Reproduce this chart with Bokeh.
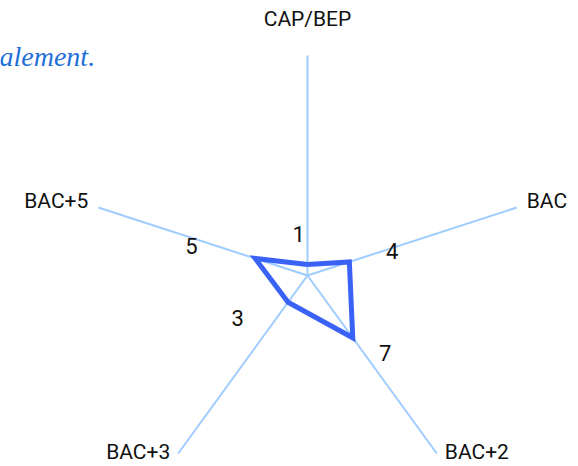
import math
from bokeh.plotting import figure
from bokeh.models import Range1d
from bokeh.core.properties import value
from bokeh.embed import file_html
from bokeh.resources import INLINE

# ---- data ----
categories = ["CAP/BEP", "BAC", "BAC+2", "BAC+3", "BAC+5"]
values = [1, 4, 7, 3, 5]
axis_max = 20
title_fragment = "alement."

# ---- style / layout ----
W, H = 578, 466
PX = 11.0                   # pixels per value unit
cx_px, cy_px = 307, 275     # centre of the radar inside the figure (from top-left)
angles_deg = [90, 18, -54, -126, 162]
# axis-label anchoring: (align, baseline, x_offset, y_offset)
cat_label_style = [
    ("center", "middle", 0, -37),
    ("left", "middle", 10, -7),
    ("left", "middle", 8, -1),
    ("right", "middle", -8, -1),
    ("right", "middle", -10, -7),
]
# value-label placement (radius in value units, angle in degrees)
val_label_polar = [(3.9, 102), (8.0, 16), (10.0, -45), (7.45, 211.6), (10.9, 165.7)]

AXIS_COLOR = "#9fccff"
POLY_COLOR = "#3a62f5"
TEXT_COLOR = "#111111"
FONT = "Roboto"

p = figure(width=W, height=H, output_backend="svg", toolbar_location=None,
           x_range=Range1d(-cx_px / PX, (W - cx_px) / PX),
           y_range=Range1d(-(H - cy_px) / PX, cy_px / PX),
           min_border=0, outline_line_color=None)
p.axis.visible = False
p.grid.visible = False
p.background_fill_color = "white"
p.border_fill_color = "white"

rad = [math.radians(a) for a in angles_deg]

# spokes
xs = [[0, axis_max * math.cos(a)] for a in rad]
ys = [[0, axis_max * math.sin(a)] for a in rad]
p.multi_line(xs=xs, ys=ys, line_color=AXIS_COLOR, line_width=2)

# data polygon
px = [v * math.cos(a) for v, a in zip(values, rad)]
py = [v * math.sin(a) for v, a in zip(values, rad)]
p.line(x=px + [px[0]], y=py + [py[0]], line_color=POLY_COLOR, line_width=5,
       line_join="miter")

# category labels
for cat, a, (al, bl, xo, yo) in zip(categories, rad, cat_label_style):
    p.text(x=[axis_max * math.cos(a)], y=[axis_max * math.sin(a)], text=[cat],
           text_align=al, text_baseline=bl, x_offset=xo, y_offset=yo,
           text_font=value(FONT), text_font_size="21px", text_color=TEXT_COLOR)

# value labels
vx = [r * math.cos(math.radians(t)) for r, t in val_label_polar]
vy = [r * math.sin(math.radians(t)) for r, t in val_label_polar]
p.text(x=vx, y=vy, text=[str(v) for v in values], text_align="center",
       text_baseline="middle", text_font=value(FONT), text_font_size="22px",
       text_color=TEXT_COLOR)

# clipped title fragment (top-left)
p.text(x=[-(cx_px + 1) / PX], y=[(cy_px - 56) / PX], text=[title_fragment],
       text_align="left", text_baseline="middle",
       text_font=value("Liberation Serif"), text_font_style="italic",
       text_font_size="28px", text_color="#1f6fd8")

open("out.html", "w").write(file_html(p, INLINE))
